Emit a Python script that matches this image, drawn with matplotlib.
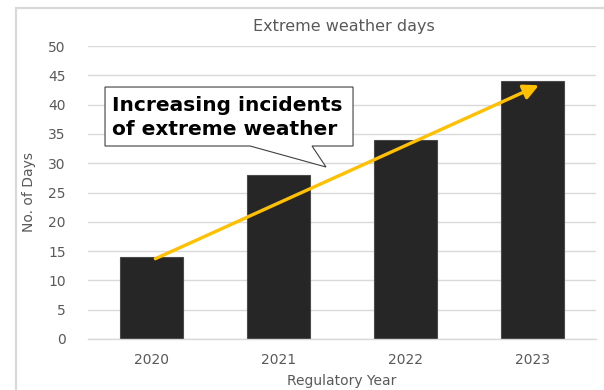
import matplotlib
matplotlib.use("Agg")
import matplotlib.pyplot as plt
from matplotlib.patches import Polygon, Rectangle, FancyArrowPatch

plt.rcParams['font.family'] = ['DejaVu Sans']

years = ["2020", "2021", "2022", "2023"]
days = [14, 28, 34, 44]
y_ticks = [0, 5, 10, 15, 20, 25, 30, 35, 40, 45, 50]
title = "Extreme weather days"
callout = "Increasing incidents\nof extreme weather"

TEXT_GREY = "#595959"
GRID_GREY = "#D9D9D9"
BAR_COLOR = "#262626"
ARROW_COLOR = "#FFC000"

fig = plt.figure(figsize=(6.04, 3.90), dpi=100)
fig.patch.set_facecolor("white")

# chart frame
fig.patches.append(Rectangle((16 / 604, -0.1), 1.2, 1 - 8 / 390 + 0.1,
                             transform=fig.transFigure, fill=False,
                             edgecolor=GRID_GREY, linewidth=1.6, zorder=0))

ax = fig.add_axes([88 / 604, 1 - 339 / 390, 508 / 604, 293 / 390])
x = list(range(len(years)))
ax.bar(x, days, width=0.5, color=BAR_COLOR, edgecolor="#4a4a4a",
       linewidth=0.8, zorder=2)

ax.set_xlim(-0.5, len(years) - 0.5)
ax.set_ylim(0, 50)
ax.set_yticks(y_ticks)
ax.set_xticks(x)
ax.set_xticklabels(years)
ax.tick_params(axis="both", length=0, colors=TEXT_GREY, labelsize=10)
ax.tick_params(axis="y", pad=16)
ax.tick_params(axis="x", pad=10)
ax.grid(axis="y", color=GRID_GREY, linewidth=1.0, zorder=0)
ax.set_axisbelow(True)
for side in ("top", "right", "left"):
    ax.spines[side].set_visible(False)
ax.spines["bottom"].set_color(GRID_GREY)
ax.spines["bottom"].set_linewidth(1.0)

ax.set_xlabel("Regulatory Year", color=TEXT_GREY, fontsize=10, labelpad=5)
ax.set_ylabel("No. of Days", color=TEXT_GREY, fontsize=10, labelpad=9)

fig.text(344 / 604, 1 - 26 / 390, title, ha="center", va="center",
         color=TEXT_GREY, fontsize=11.5)

# trend arrow across the bars
arrow = FancyArrowPatch((x[0] + 0.03, days[0] - 0.3), (x[-1] + 0.05, days[-1] - 0.7),
                        arrowstyle="-|>,head_length=9,head_width=4.5",
                        color=ARROW_COLOR, linewidth=2.4, zorder=4,
                        mutation_scale=1.0, shrinkA=0, shrinkB=0)
ax.add_patch(arrow)

# speech-bubble callout
bubble = Polygon([(0.0335, 0.860), (0.5217, 0.860), (0.5217, 0.6587),
                  (0.441, 0.6587), (0.4685, 0.587), (0.319, 0.6587),
                  (0.0335, 0.6587)],
                 closed=True, transform=ax.transAxes, facecolor="white",
                 edgecolor="#404040", linewidth=0.8, zorder=5)
ax.add_patch(bubble)
ax.text(0.0472, 0.757, callout, transform=ax.transAxes, ha="left", va="center",
        fontsize=14.5, fontweight="bold", color="black", linespacing=1.32,
        zorder=6)

fig.savefig("out.png", dpi=100)
